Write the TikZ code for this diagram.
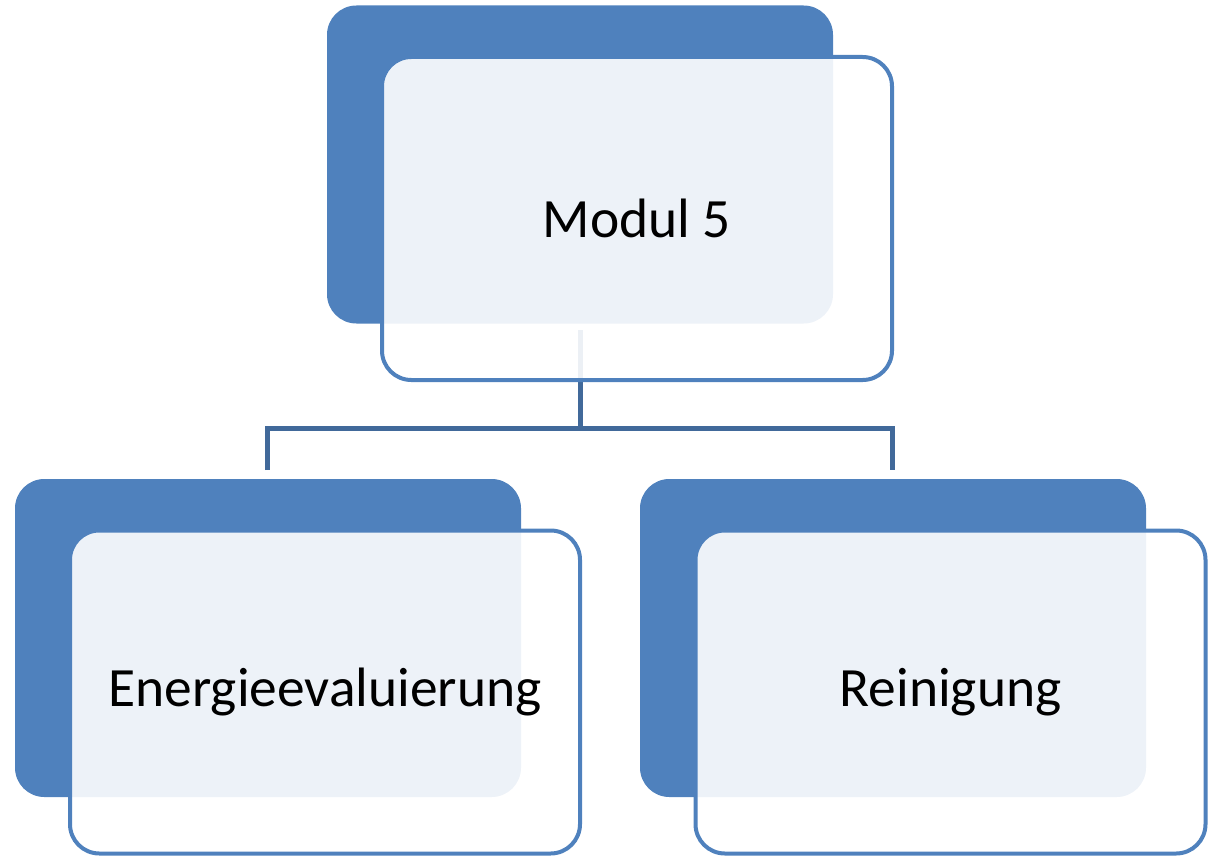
\documentclass[tikz,border=0pt]{standalone}
\usepackage{fontspec}
\setmainfont{Carlito}
\definecolor{boxblue}{HTML}{4F81BD}
\definecolor{linkblue}{HTML}{41699A}
\begin{document}
\begin{tikzpicture}[x=0.75pt,y=-0.75pt,
  darkbox/.style={rectangle,rounded corners=22pt,fill=boxblue,draw=none,minimum width=379.5pt,minimum height=238.5pt,inner sep=0pt},
  lightbox/.style={rectangle,rounded corners=22pt,draw=boxblue,line width=3pt,fill=white,fill opacity=0.9,text opacity=1,minimum width=382.5pt,minimum height=242.25pt,inner sep=0pt,font=\fontsize{41.6}{50}\selectfont},
  link/.style={draw=linkblue,line width=3.75pt}]
\useasboundingbox (0,0) rectangle (1217,856);
% connectors (behind)
\coordinate (c0) at (580,330);
\coordinate (c1) at (580,428);
\coordinate (cl) at (267,428);
\coordinate (cr) at (892,428);
\coordinate (el) at (267,470);
\coordinate (er) at (892,470);
\draw[link] (c0) -- (c1);
\draw[link] (el) -- (cl) -- (cr) -- (er);
% top
\node[darkbox] (topd) at (580,164.5) {};
\node[lightbox] (top) at (637,218.5) {Modul 5};
% bottom left
\node[darkbox] (leftd) at (268,638) {};
\node[lightbox] (left) at (325,692) {Energieevaluierung};
% bottom right
\node[darkbox] (rightd) at (893,638) {};
\node[lightbox] (right) at (950.5,692) {Reinigung};
\end{tikzpicture}
\end{document}
